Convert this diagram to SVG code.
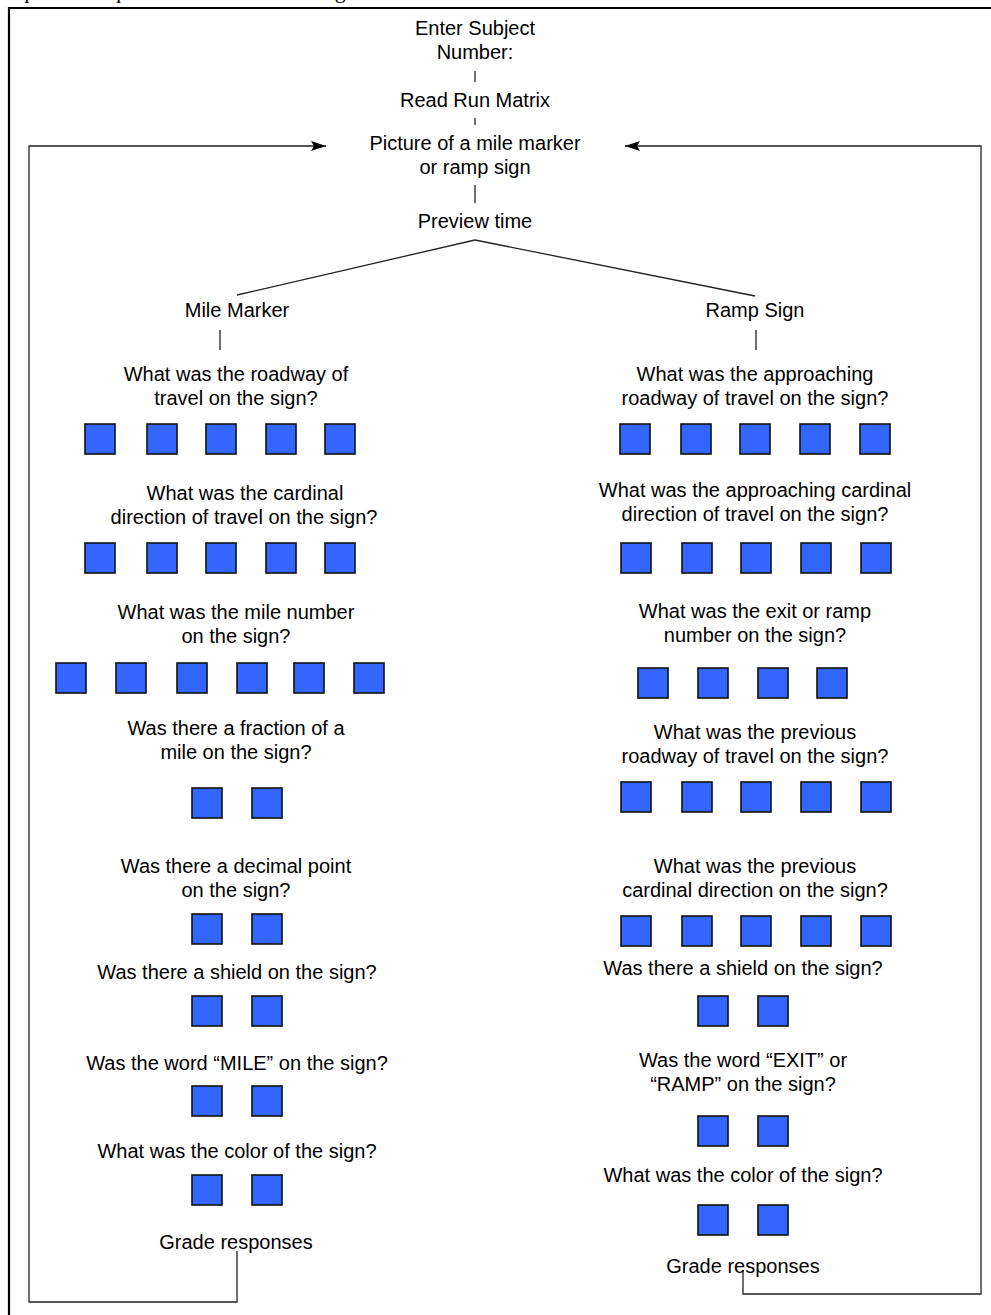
<svg xmlns="http://www.w3.org/2000/svg" width="991" height="1315" viewBox="0 0 991 1315">
<style>
text{font-family:"Liberation Sans",Arial,sans-serif;font-size:20px;fill:#000;text-anchor:middle}
.cut{font-family:"Liberation Serif","Times New Roman",serif;font-size:22px;text-anchor:start}
.sq{fill:#3366ff;stroke:#111;stroke-width:1.6}
.ln{stroke:#222;stroke-width:1.3;fill:none}
.frame{stroke:#000;stroke-width:2.2;fill:none}
</style>
<defs>
<marker id="ah" markerWidth="15" markerHeight="10" refX="15" refY="5" orient="auto" markerUnits="userSpaceOnUse">
<path d="M0,0 L15,5 L0,10 L3,5 Z" fill="#000"/>
</marker>
</defs>
<rect width="991" height="1315" fill="#fff"/>
<text class="cut" x="0" y="-2">sequence of questions are shown in Figure 8.</text>
<path class="frame" d="M9,1315 V8 H991"/>
<g id="connectors">
<line class="ln" x1="475" y1="71" x2="475" y2="82"/>
<line class="ln" x1="475" y1="118" x2="475" y2="125"/>
<line class="ln" x1="475" y1="185" x2="475" y2="203"/>
<line class="ln" x1="475" y1="240" x2="237" y2="295"/>
<line class="ln" x1="475" y1="240" x2="755" y2="296"/>
<line class="ln" x1="220" y1="330" x2="220" y2="350"/>
<line class="ln" x1="756" y1="330" x2="756" y2="350"/>
<path class="ln" d="M237,1251 V1302 H29 V146 H326" marker-end="url(#ah)"/>
<path class="ln" d="M743,1270 V1294 H981 V146 H625" marker-end="url(#ah)"/>
</g>
<g id="start"><text x="475" y="35">Enter Subject</text><text x="475" y="59">Number:</text></g>
<g id="runmatrix"><text x="475" y="107">Read Run Matrix</text></g>
<g id="picture"><text x="475" y="150">Picture of a mile marker</text><text x="475" y="174">or ramp sign</text></g>
<g id="preview"><text x="475" y="228">Preview time</text></g>
<g id="milemarker"><text x="237" y="317">Mile Marker</text></g>
<g id="rampsign"><text x="755" y="317">Ramp Sign</text></g>

<g id="m1"><text x="236" y="381">What was the roadway of</text><text x="236" y="405">travel on the sign?</text>
<rect class="sq" x="85" y="424" width="30" height="30"/><rect class="sq" x="147" y="424" width="30" height="30"/><rect class="sq" x="206" y="424" width="30" height="30"/><rect class="sq" x="266" y="424" width="30" height="30"/><rect class="sq" x="325" y="424" width="30" height="30"/></g>
<g id="m2"><text x="245" y="500">What was the cardinal</text><text x="244" y="524">direction of travel on the sign?</text>
<rect class="sq" x="85" y="543" width="30" height="30"/><rect class="sq" x="147" y="543" width="30" height="30"/><rect class="sq" x="206" y="543" width="30" height="30"/><rect class="sq" x="266" y="543" width="30" height="30"/><rect class="sq" x="325" y="543" width="30" height="30"/></g>
<g id="m3"><text x="236" y="619">What was the mile number</text><text x="236" y="643">on the sign?</text>
<rect class="sq" x="56" y="663" width="30" height="30"/><rect class="sq" x="116" y="663" width="30" height="30"/><rect class="sq" x="177" y="663" width="30" height="30"/><rect class="sq" x="237" y="663" width="30" height="30"/><rect class="sq" x="294" y="663" width="30" height="30"/><rect class="sq" x="354" y="663" width="30" height="30"/></g>
<g id="m4"><text x="236" y="735">Was there a fraction of a</text><text x="236" y="759">mile on the sign?</text>
<rect class="sq" x="192" y="788" width="30" height="30"/><rect class="sq" x="252" y="788" width="30" height="30"/></g>
<g id="m5"><text x="236" y="873">Was there a decimal point</text><text x="236" y="897">on the sign?</text>
<rect class="sq" x="192" y="914" width="30" height="30"/><rect class="sq" x="252" y="914" width="30" height="30"/></g>
<g id="m6"><text x="237" y="979">Was there a shield on the sign?</text>
<rect class="sq" x="192" y="996" width="30" height="30"/><rect class="sq" x="252" y="996" width="30" height="30"/></g>
<g id="m7"><text x="237" y="1070">Was the word “MILE” on the sign?</text>
<rect class="sq" x="192" y="1086" width="30" height="30"/><rect class="sq" x="252" y="1086" width="30" height="30"/></g>
<g id="m8"><text x="237" y="1158">What was the color of the sign?</text>
<rect class="sq" x="192" y="1175" width="30" height="30"/><rect class="sq" x="252" y="1175" width="30" height="30"/></g>
<g id="mgrade"><text x="236" y="1249">Grade responses</text></g>

<g id="r1"><text x="755" y="381">What was the approaching</text><text x="755" y="405">roadway of travel on the sign?</text>
<rect class="sq" x="620" y="424" width="30" height="30"/><rect class="sq" x="681" y="424" width="30" height="30"/><rect class="sq" x="740" y="424" width="30" height="30"/><rect class="sq" x="800" y="424" width="30" height="30"/><rect class="sq" x="860" y="424" width="30" height="30"/></g>
<g id="r2"><text x="755" y="497">What was the approaching cardinal</text><text x="755" y="521">direction of travel on the sign?</text>
<rect class="sq" x="621" y="543" width="30" height="30"/><rect class="sq" x="682" y="543" width="30" height="30"/><rect class="sq" x="741" y="543" width="30" height="30"/><rect class="sq" x="801" y="543" width="30" height="30"/><rect class="sq" x="861" y="543" width="30" height="30"/></g>
<g id="r3"><text x="755" y="618">What was the exit or ramp</text><text x="755" y="642">number on the sign?</text>
<rect class="sq" x="638" y="668" width="30" height="30"/><rect class="sq" x="698" y="668" width="30" height="30"/><rect class="sq" x="758" y="668" width="30" height="30"/><rect class="sq" x="817" y="668" width="30" height="30"/></g>
<g id="r4"><text x="755" y="739">What was the previous</text><text x="755" y="763">roadway of travel on the sign?</text>
<rect class="sq" x="621" y="782" width="30" height="30"/><rect class="sq" x="682" y="782" width="30" height="30"/><rect class="sq" x="741" y="782" width="30" height="30"/><rect class="sq" x="801" y="782" width="30" height="30"/><rect class="sq" x="861" y="782" width="30" height="30"/></g>
<g id="r5"><text x="755" y="873">What was the previous</text><text x="755" y="897">cardinal direction on the sign?</text>
<rect class="sq" x="621" y="916" width="30" height="30"/><rect class="sq" x="682" y="916" width="30" height="30"/><rect class="sq" x="741" y="916" width="30" height="30"/><rect class="sq" x="801" y="916" width="30" height="30"/><rect class="sq" x="861" y="916" width="30" height="30"/></g>
<g id="r6"><text x="743" y="975">Was there a shield on the sign?</text>
<rect class="sq" x="698" y="996" width="30" height="30"/><rect class="sq" x="758" y="996" width="30" height="30"/></g>
<g id="r7"><text x="743" y="1067">Was the word “EXIT” or</text><text x="743" y="1091">“RAMP” on the sign?</text>
<rect class="sq" x="698" y="1116" width="30" height="30"/><rect class="sq" x="758" y="1116" width="30" height="30"/></g>
<g id="r8"><text x="743" y="1182">What was the color of the sign?</text>
<rect class="sq" x="698" y="1205" width="30" height="30"/><rect class="sq" x="758" y="1205" width="30" height="30"/></g>
<g id="rgrade"><text x="743" y="1273">Grade responses</text></g>
</svg>
